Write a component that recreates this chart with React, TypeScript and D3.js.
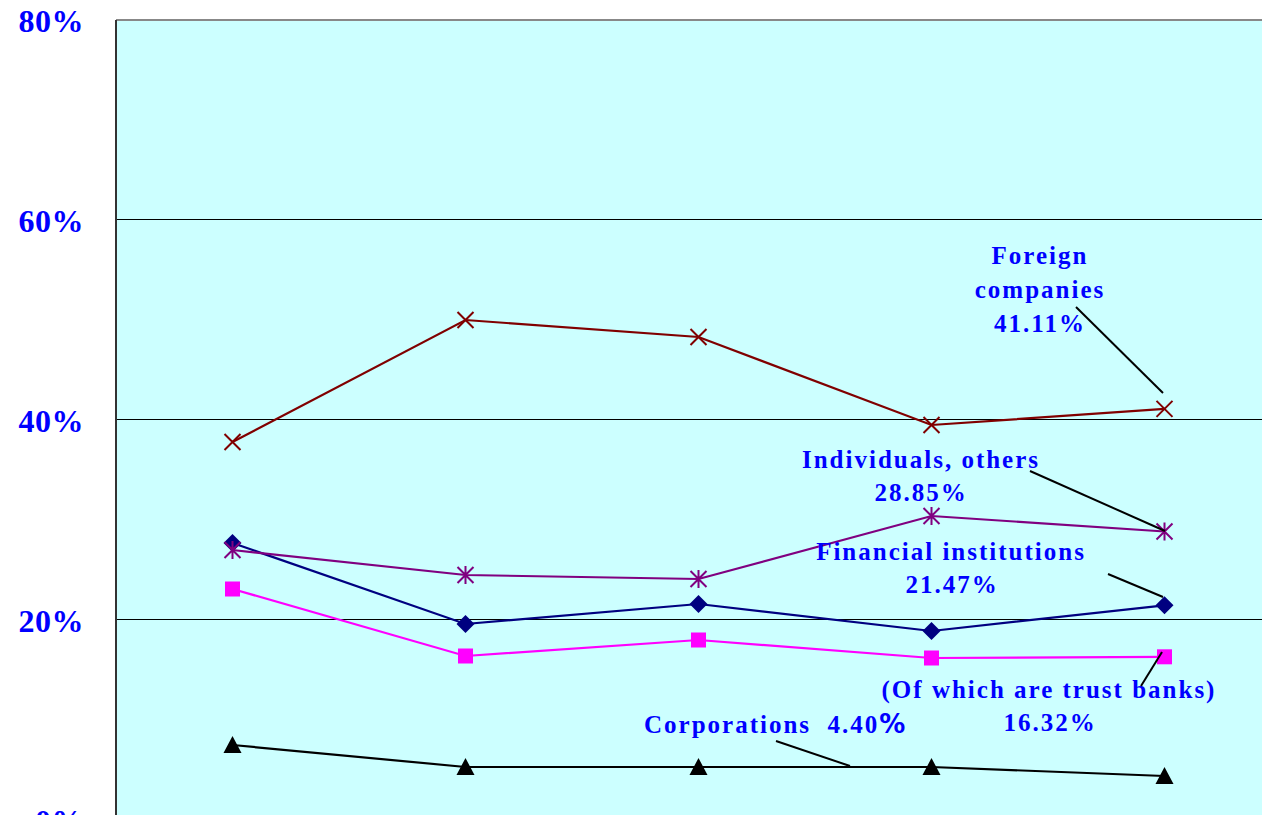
import React from "react";
import * as d3 from "d3";

// shareholder composition, last point matches the callout labels
const categories = ["P1", "P2", "P3", "P4", "P5"];
const foreign = [37.8, 50.0, 48.3, 39.5, 41.11];
const individuals = [27.0, 24.5, 24.1, 30.4, 28.85];
const financial = [27.7, 19.6, 21.6, 18.9, 21.47];
const trustBanks = [23.1, 16.4, 18.0, 16.2, 16.32];
const corporations = [7.5, 5.3, 5.3, 5.3, 4.4];
const yTicks = [0, 20, 40, 60, 80];

const W = 1262;
const H = 815;
const left = 116;
const plotW = 1165;
const top = 20;
const bottom = 820;

const x = d3.scaleBand<string>().domain(categories).range([left, left + plotW]);
const cx = (c: string) => (x(c) ?? 0) + x.bandwidth() / 2;
const y = d3.scaleLinear().domain([0, 80]).range([bottom, top]);

const line = d3
  .line<number>()
  .x((_, i) => cx(categories[i]))
  .y((d) => y(d));

const labelStyle: React.CSSProperties = {
  fontFamily: "'Liberation Serif', 'Times New Roman', serif",
  fontWeight: "bold",
  fontSize: 25,
  letterSpacing: 2,
  fill: "#0000ff",
};

type Marker = "x" | "star" | "diamond" | "square" | "triangle";

function drawMarker(kind: Marker, px: number, py: number, color: string, key: string) {
  const s = 8;
  if (kind === "x")
    return (
      <path key={key} d={`M${px - s},${py - s}L${px + s},${py + s}M${px - s},${py + s}L${px + s},${py - s}`} stroke={color} strokeWidth={2} />
    );
  if (kind === "star")
    return (
      <path
        key={key}
        d={`M${px - s},${py - s}L${px + s},${py + s}M${px - s},${py + s}L${px + s},${py - s}M${px},${py - s - 1}L${px},${py + s + 1}`}
        stroke={color}
        strokeWidth={2}
      />
    );
  if (kind === "diamond")
    return <path key={key} d={`M${px},${py - 9}L${px + 9},${py}L${px},${py + 9}L${px - 9},${py}Z`} fill={color} />;
  if (kind === "square") return <rect key={key} x={px - 7.5} y={py - 7.5} width={15} height={15} fill={color} />;
  return <path key={key} d={`M${px},${py - 9}L${px + 9},${py + 8}L${px - 9},${py + 8}Z`} fill={color} />;
}

const series: { values: number[]; color: string; marker: Marker }[] = [
  { values: corporations, color: "#000000", marker: "triangle" },
  { values: trustBanks, color: "#ff00ff", marker: "square" },
  { values: financial, color: "#000080", marker: "diamond" },
  { values: individuals, color: "#800080", marker: "star" },
  { values: foreign, color: "#800000", marker: "x" },
];

export default function App() {
  return (
    <div style={{ position: "fixed", left: 0, top: 0 }}>
      <svg width={W} height={H} style={{ display: "block", background: "#fff" }}>
        <rect x={left} y={top} width={plotW} height={bottom - top} fill="#ccffff" />
        {yTicks
          .filter((t) => t > 0 && t < 80)
          .map((t) => (
            <line key={t} x1={left} x2={left + plotW} y1={y(t) - 0.5} y2={y(t) - 0.5} stroke="#000" strokeWidth={1} />
          ))}
        <line x1={left} x2={left + plotW} y1={top} y2={top} stroke="#888" strokeWidth={2} />
        <line x1={left} x2={left} y1={top} y2={bottom} stroke="#333" strokeWidth={2} />
        {yTicks.map((t) => (
          <text
            key={t}
            x={84}
            y={y(t) + 12}
            textAnchor="end"
            style={{ ...labelStyle, fontSize: 32, letterSpacing: 0.5 }}
          >
            {t}%
          </text>
        ))}
        {series.map((s, si) => (
          <g key={si}>
            <path d={line(s.values) ?? ""} fill="none" stroke={s.color} strokeWidth={2.2} />
            {s.values.map((v, i) => drawMarker(s.marker, cx(categories[i]), y(v), s.color, `${si}-${i}`))}
          </g>
        ))}
        {/* callouts */}
        <g style={labelStyle}>
          <text x={1040} y={264} textAnchor="middle">Foreign</text>
          <text x={1040} y={298} textAnchor="middle">companies</text>
          <text x={1040} y={332} textAnchor="middle">41.11%</text>
          <text x={921} y={468} textAnchor="middle">Individuals, others</text>
          <text x={921} y={501} textAnchor="middle">28.85%</text>
          <text x={951} y={560} textAnchor="middle">Financial institutions</text>
          <text x={952} y={593} textAnchor="middle">21.47%</text>
          <text x={1049} y={698} textAnchor="middle">(Of which are trust banks)</text>
          <text x={1050} y={731} textAnchor="middle">16.32%</text>
          <text x={644} y={733}>
            Corporations{"\u00a0\u00a0"}4.40
            <tspan style={{ fontFamily: "'DejaVu Sans', sans-serif", fontSize: 26, letterSpacing: 0 }}>%</tspan>
          </text>
        </g>
        <g stroke="#000" strokeWidth={2}>
          <line x1={1076} y1={307} x2={1163} y2={393} />
          <line x1={1030} y1={471} x2={1165} y2={531} />
          <line x1={1108} y1={574} x2={1163} y2={597} />
          <line x1={1162} y1={652} x2={1141} y2={686} />
          <line x1={776} y1={741} x2={850} y2={766} />
        </g>
      </svg>
    </div>
  );
}
